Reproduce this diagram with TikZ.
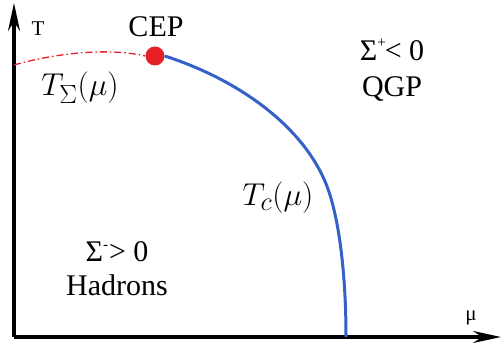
\documentclass[tikz,border=0pt]{standalone}
\usepackage{graphicx}
\usepackage{fontspec}
\newfontfamily\tnr{Liberation Serif}
\usetikzlibrary{arrows.meta}
\definecolor{cepred}{RGB}{228,32,38}
\definecolor{tcblue}{RGB}{52,96,200}
\newcommand{\bigmath}[1]{\scalebox{1.27}{\fontsize{24.88}{30}\selectfont$#1$}}
\begin{document}
\begin{tikzpicture}[x=1pt,y=-1pt,
  axis/.style={line width=3.2pt,-{Stealth[length=28pt,width=12pt,inset=9pt]}},
  lbl/.style={inner sep=0pt,font=\tnr\fontsize{30}{33}\selectfont},
  mlbl/.style={inner sep=0pt},
  small/.style={inner sep=0pt,font=\tnr\fontsize{21}{24}\selectfont}]
\path[use as bounding box,fill=white] (0,0) rectangle (502,347);
\coordinate (O) at (14,337);
\coordinate (Ytop) at (14,3);
\coordinate (Xend) at (501,337);
\coordinate (Tleft) at (14,65);
\coordinate (Tbot) at (346,337);
\draw[axis] (O) -- (Ytop);
\draw[axis] (O) -- (Xend);
\node[small] (T) at (38,29) {T};
\node[small] (mu) at (471,318) {μ};
\node[circle,fill=cepred,minimum size=19pt,inner sep=0pt] (cep) at (155,56) {};
\node[lbl] (ceplbl) at (156,27) {CEP};
\draw[cepred,line width=1.3pt,dash pattern=on 7pt off 3pt on 1.5pt off 3pt]
  (Tleft) .. controls (60,52) and (110,48) .. (cep.west);
\draw[tcblue,line width=3pt]
  (cep.east) .. controls (240,80) and (310,130) .. (330,195)
  .. controls (342,234) and (346,290) .. (Tbot);
\node[mlbl] (tsig) at (80,88) {\bigmath{T_{\Sigma}(\mu)}};
\node[mlbl] (tc) at (278,198) {\bigmath{T_{c}(\mu)}};
\node[lbl] (qgpcond) at (392,50) {Σ\raisebox{0.9ex}{\fontsize{15}{15}\selectfont +}\kern-1pt< 0};
\node[lbl] (qgp) at (392,89) {QGP};
\node[lbl] (hadcond) at (117,252) {Σ\raisebox{0.9ex}{\fontsize{15}{15}\selectfont -}\kern1pt> 0};
\node[lbl] (had) at (117,285) {Hadrons};
\end{tikzpicture}
\end{document}
